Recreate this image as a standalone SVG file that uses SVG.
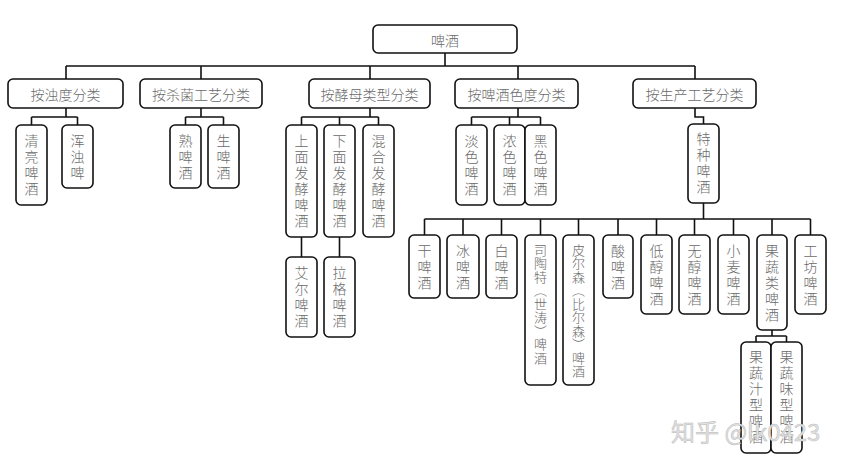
<svg xmlns="http://www.w3.org/2000/svg" width="854" height="465" viewBox="0 0 854 465">
<style>
.box{fill:#fff;stroke:#111;stroke-width:1.6}
.ln{fill:none;stroke:#111;stroke-width:1.6}
.h{font-family:"Noto Sans CJK SC","Noto Sans CJK JP",sans-serif;font-size:14px;font-weight:300;fill:#6a6a6a;text-anchor:middle;dominant-baseline:central}
.v{font-family:"Noto Sans CJK SC","Noto Sans CJK JP",sans-serif;font-size:14px;font-weight:300;fill:#6a6a6a;writing-mode:vertical-rl;letter-spacing:2px}
.v2{font-family:"Noto Sans CJK SC","Noto Sans CJK JP",sans-serif;font-size:13px;font-weight:300;fill:#6a6a6a;writing-mode:vertical-rl;letter-spacing:0.5px}
.wm{font-family:"Noto Sans CJK SC",sans-serif;font-size:24px;fill:#e2e2e2;stroke:#bbb;stroke-width:0.5}
</style>
<rect width="854" height="465" fill="#fff"/>
<g id="connectors">
<path class="ln" d="M445 53V66M66 66H695M66 66V79M201 66V79M370 66V79M518 66V79M695 66V79"/>
<path class="ln" d="M66 108V117M31.5 117H77.5M31.5 117V125M77.5 117V125"/>
<path class="ln" d="M201 108V117M185.5 117H223.5M185.5 117V125M223.5 117V125"/>
<path class="ln" d="M370 108V117M301.5 117H378.5M301.5 117V125M339.5 117V125M378.5 117V125"/>
<path class="ln" d="M301.5 237V257M339.5 237V257"/>
<path class="ln" d="M518 108V117M471.5 117H540.5M471.5 117V125M509.5 117V125M540.5 117V125"/>
<path class="ln" d="M695 108V117H703.5V124"/>
<path class="ln" d="M703.5 203V219M424.5 219H810.5M424.5 219V235M463 219V235M501.5 219V235M540.5 219V235M578.5 219V235M618 219V235M656.5 219V235M694.5 219V235M733.5 219V235M772 219V235M810.5 219V235"/>
<path class="ln" d="M772 330V336M756 336H786.5M756 336V342M786.5 336V342"/>
</g>
<g id="root"><rect class="box" x="373" y="25" width="144" height="28" rx="5"/><text class="h" x="445" y="39.5">啤酒</text></g>
<g id="by-turbidity"><rect class="box" x="8" y="79" width="115" height="29" rx="5"/><text class="h" x="65.5" y="93.5">按浊度分类</text></g>
<g id="by-sterilization"><rect class="box" x="140" y="79" width="122" height="29" rx="5"/><text class="h" x="201" y="93.5">按杀菌工艺分类</text></g>
<g id="by-yeast"><rect class="box" x="309" y="79" width="121" height="29" rx="5"/><text class="h" x="369.5" y="93.5">按酵母类型分类</text></g>
<g id="by-color"><rect class="box" x="455" y="79" width="123" height="29" rx="5"/><text class="h" x="516.5" y="93.5">按啤酒色度分类</text></g>
<g id="by-process"><rect class="box" x="633" y="79" width="123" height="29" rx="5"/><text class="h" x="694.5" y="93.5">按生产工艺分类</text></g>
<g id="clear"><rect class="box" x="16" y="125" width="31" height="80" rx="5"/><text class="v" x="31.5" y="134">清亮啤酒</text></g>
<g id="turbid"><rect class="box" x="62" y="125" width="31" height="63" rx="5"/><text class="v" x="77.5" y="134">浑浊啤</text></g>
<g id="pasteurized"><rect class="box" x="170" y="125" width="31" height="63" rx="5"/><text class="v" x="185.5" y="134">熟啤酒</text></g>
<g id="draft"><rect class="box" x="208" y="125" width="31" height="63" rx="5"/><text class="v" x="223.5" y="134">生啤酒</text></g>
<g id="top-ferment"><rect class="box" x="286" y="125" width="31" height="112" rx="5"/><text class="v" x="301.5" y="134">上面发酵啤酒</text></g>
<g id="bottom-ferment"><rect class="box" x="324" y="125" width="31" height="112" rx="5"/><text class="v" x="339.5" y="134">下面发酵啤酒</text></g>
<g id="mixed-ferment"><rect class="box" x="363" y="125" width="31" height="112" rx="5"/><text class="v" x="378.5" y="134">混合发酵啤酒</text></g>
<g id="ale"><rect class="box" x="286" y="257" width="31" height="80" rx="5"/><text class="v" x="301.5" y="266">艾尔啤酒</text></g>
<g id="lager"><rect class="box" x="324" y="257" width="31" height="80" rx="5"/><text class="v" x="339.5" y="266">拉格啤酒</text></g>
<g id="pale"><rect class="box" x="456" y="125" width="31" height="80" rx="5"/><text class="v" x="471.5" y="134">淡色啤酒</text></g>
<g id="dark"><rect class="box" x="494" y="125" width="31" height="80" rx="5"/><text class="v" x="509.5" y="134">浓色啤酒</text></g>
<g id="black"><rect class="box" x="525" y="125" width="31" height="80" rx="5"/><text class="v" x="540.5" y="134">黑色啤酒</text></g>
<g id="special"><rect class="box" x="688" y="124" width="31" height="79" rx="5"/><text class="v" x="703.5" y="132">特种啤酒</text></g>
<g id="dry"><rect class="box" x="409" y="235" width="31" height="63" rx="5"/><text class="v" x="424.5" y="244">干啤酒</text></g>
<g id="ice"><rect class="box" x="447" y="235" width="32" height="63" rx="5"/><text class="v" x="463" y="244">冰啤酒</text></g>
<g id="white"><rect class="box" x="486" y="235" width="31" height="63" rx="5"/><text class="v" x="501.5" y="244">白啤酒</text></g>
<g id="stout"><rect class="box" x="525" y="235" width="31" height="150" rx="5"/><text class="v2" x="540.5" y="243.5">司陶特（世涛）啤酒</text></g>
<g id="pilsner"><rect class="box" x="563" y="235" width="31" height="150" rx="5"/><text class="v2" x="578.5" y="243.5">皮尔森（比尔森）啤酒</text></g>
<g id="sour"><rect class="box" x="603" y="235" width="30" height="63" rx="5"/><text class="v" x="618" y="244">酸啤酒</text></g>
<g id="low-alcohol"><rect class="box" x="641" y="235" width="31" height="79" rx="5"/><text class="v" x="656.5" y="244">低醇啤酒</text></g>
<g id="non-alcohol"><rect class="box" x="679" y="235" width="31" height="79" rx="5"/><text class="v" x="694.5" y="244">无醇啤酒</text></g>
<g id="wheat"><rect class="box" x="718" y="235" width="31" height="79" rx="5"/><text class="v" x="733.5" y="244">小麦啤酒</text></g>
<g id="fruit-veg"><rect class="box" x="757" y="235" width="30" height="95" rx="5"/><text class="v" x="772" y="244">果蔬类啤酒</text></g>
<g id="craft"><rect class="box" x="795" y="235" width="31" height="79" rx="5"/><text class="v" x="810.5" y="244">工坊啤酒</text></g>
<g id="juice-type"><rect class="box" x="741" y="342" width="30" height="111" rx="5"/><text class="v" x="756" y="350">果蔬汁型啤酒</text></g>
<g id="flavor-type"><rect class="box" x="771" y="342" width="31" height="111" rx="5"/><text class="v" x="786.5" y="350">果蔬味型啤酒</text></g>
<text class="wm" x="671" y="441">知乎 @lk0423</text>
</svg>
